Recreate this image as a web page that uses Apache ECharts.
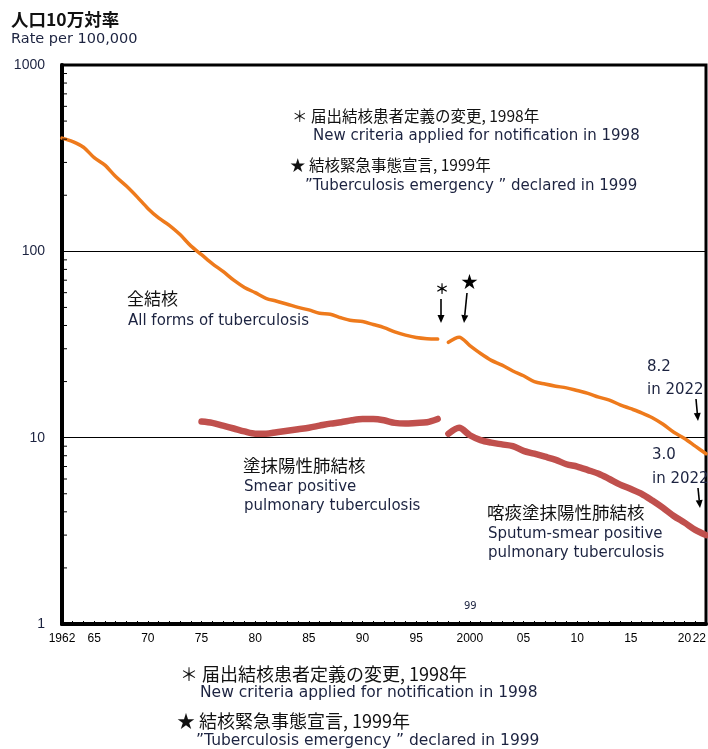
<!DOCTYPE html>
<html>
<head>
<meta charset="utf-8">
<script src="https://cdn.jsdelivr.net/npm/echarts@6/dist/echarts.min.js"></script>
<style>
  html, body { margin: 0; padding: 0; background: #fff; }
  #chart { width: 708px; height: 749px; }
</style>
</head>
<body>
<div id="chart"></div>
<script>
// Tuberculosis notification rate per 100,000 population, Japan, 1962-2022

// x-axis tick labels (year -> label text)
const xLabelYears = [1962, 1965, 1970, 1975, 1980, 1985, 1990, 1995, 2000, 2005, 2010, 2015, 2020, 2022];
const xLabelTexts = ['1962', '65', '70', '75', '80', '85', '90', '95', '2000', '05', '10', '15', '20', '22'];

// All forms of tuberculosis, old criteria (1962-1997)
const allFormsYearsA = [1962, 1963, 1964, 1965, 1966, 1967, 1968, 1969, 1970, 1971, 1972, 1973,
  1974, 1975, 1976, 1977, 1978, 1979, 1980, 1981, 1982, 1983, 1984, 1985, 1986, 1987, 1988,
  1989, 1990, 1991, 1992, 1993, 1994, 1995, 1996, 1997];
const allFormsA = [405, 388, 362, 318, 290, 252, 224, 196, 170, 151, 138, 123,
  107, 96, 86, 78, 70, 64, 60, 56, 54, 52, 50, 48.5, 46.5, 46, 44,
  42.5, 42, 40.5, 39, 37, 35.5, 34.5, 34, 33.8];

// All forms of tuberculosis, new criteria (1998-2022)
const allFormsYearsB = [1998, 1999, 2000, 2001, 2002, 2003, 2004, 2005, 2006, 2007, 2008, 2009,
  2010, 2011, 2012, 2013, 2014, 2015, 2016, 2017, 2018, 2019, 2020, 2021, 2022];
const allFormsB = [32.5, 34.6, 31.2, 28.3, 26.0, 24.5, 22.8, 21.5, 20.0, 19.4, 18.9, 18.5,
  17.9, 17.3, 16.5, 15.9, 15.0, 14.3, 13.6, 12.8, 11.8, 10.7, 9.9, 9.0, 8.2];

// Smear positive pulmonary tuberculosis (1975-1997)
const smearYearsA = [1975, 1976, 1977, 1978, 1979, 1980, 1981, 1982, 1983, 1984, 1985, 1986,
  1987, 1988, 1989, 1990, 1991, 1992, 1993, 1994, 1995, 1996, 1997];
const smearA = [12.2, 12.0, 11.6, 11.2, 10.8, 10.5, 10.5, 10.7, 10.9, 11.1, 11.3, 11.6,
  11.9, 12.1, 12.4, 12.6, 12.6, 12.4, 12.0, 11.9, 12.0, 12.1, 12.6];

// Sputum-smear positive pulmonary tuberculosis (1998-2022)
const smearYearsB = allFormsYearsB;
const smearB = [10.5, 11.3, 10.3, 9.7, 9.4, 9.2, 9.0, 8.5, 8.2, 7.9, 7.6, 7.2,
  7.0, 6.7, 6.4, 6.0, 5.6, 5.3, 5.0, 4.6, 4.2, 3.8, 3.5, 3.2, 3.0];

// y-axis minor tick positions on the log scale
const minorMantissas = [2, 3, 4, 5, 6, 7, 8, 9];
const minorDecades = [1, 10, 100];

const pairs = (xs, ys) => xs.map((x, i) => [x, ys[i]]);
const minorTicks = [];
minorDecades.forEach(d => minorMantissas.forEach(m => minorTicks.push([1962, m * d])));

const lastAll = allFormsB[allFormsB.length - 1];
const lastSmear = smearB[smearB.length - 1];

const ORANGE = '#EE7A1C';
const RED = '#C0504D';
const INK = '#1c2340';
const JP = '"Noto Sans CJK JP", "Noto Sans CJK SC", sans-serif';
const EN = '"DejaVu Sans", "Liberation Sans", sans-serif';

function txt(x, y, text, size, font, fill, weight) {
  return {
    type: 'text', x: x, y: y, silent: true,
    style: {
      text: text, font: (weight || 'normal') + ' ' + size + 'px ' + font,
      fill: fill || INK, textAlign: 'left', textVerticalAlign: 'middle',
      align: 'left', verticalAlign: 'middle'
    }
  };
}

function arrow(x1, y1, x2, y2) {
  const ang = Math.atan2(y2 - y1, x2 - x1);
  const L = 8, W = 3.5;
  const bx = x2 - L * Math.cos(ang), by = y2 - L * Math.sin(ang);
  const px = -Math.sin(ang) * W, py = Math.cos(ang) * W;
  return [
    { type: 'line', silent: true, shape: { x1: x1, y1: y1, x2: bx, y2: by },
      style: { stroke: '#000', lineWidth: 1.6 } },
    { type: 'polygon', silent: true,
      shape: { points: [[x2, y2], [bx + px, by + py], [bx - px, by - py]] },
      style: { fill: '#000' } }
  ];
}

const chart = echarts.init(document.getElementById('chart'), null, { renderer: 'canvas' });

const option = {
  backgroundColor: '#fff',
  animation: false,
  grid: {
    left: 62, right: 2, top: 65, bottom: 125,
    outerBoundsMode: 'none', containLabel: false,
    show: true, borderColor: '#000', borderWidth: 3, backgroundColor: 'transparent'
  },
  xAxis: {
    type: 'value', min: 1962, max: 2022, interval: 1,
    axisLine: { show: true, lineStyle: { color: '#000', width: 4 } },
    axisTick: { show: true, inside: true, length: 3, lineStyle: { color: '#000', width: 1 } },
    splitLine: { show: false },
    axisLabel: {
      show: true, margin: 9, color: '#000', fontSize: 12,
      fontFamily: '"Liberation Sans Narrow", "Liberation Sans", sans-serif',
      alignMaxLabel: 'right',
      formatter: v => {
        const i = xLabelYears.indexOf(v);
        return i >= 0 ? xLabelTexts[i] : '';
      }
    }
  },
  yAxis: {
    type: 'log', logBase: 10, min: 1, max: 1000,
    axisLine: { show: true, lineStyle: { color: '#000', width: 4 } },
    axisTick: { show: false },
    splitLine: { show: true, lineStyle: { color: '#000', width: 1 } },
    axisLabel: {
      margin: 17, color: INK, fontSize: 14, fontFamily: '"Liberation Sans", sans-serif',
      formatter: v => String(Math.round(v))
    }
  },
  series: [
    {
      type: 'custom', silent: true, z: 5,
      data: minorTicks,
      renderItem: (params, api) => {
        const p = api.coord([api.value(0), api.value(1)]);
        return {
          type: 'line',
          shape: { x1: p[0], y1: p[1], x2: p[0] + 5, y2: p[1] },
          style: { stroke: '#000', lineWidth: 1 }
        };
      }
    },
    {
      name: '全結核', type: 'line', data: pairs(allFormsYearsA, allFormsA),
      symbol: 'none', smooth: 0.3, lineStyle: { color: ORANGE, width: 3.5, cap: 'round' }
    },
    {
      name: '全結核 (new)', type: 'line', data: pairs(allFormsYearsB, allFormsB),
      symbol: 'none', smooth: 0.3, lineStyle: { color: ORANGE, width: 3.5, cap: 'round' }
    },
    {
      name: '塗抹陽性肺結核', type: 'line', data: pairs(smearYearsA, smearA),
      symbol: 'none', smooth: 0.3, lineStyle: { color: RED, width: 6.5, cap: 'round' }
    },
    {
      name: '喀痰塗抹陽性肺結核', type: 'line', data: pairs(smearYearsB, smearB),
      symbol: 'none', smooth: 0.3, lineStyle: { color: RED, width: 6.5, cap: 'round' }
    }
  ],
  graphic: [
    // axis title
    txt(11, 19, '人口10万対率', 17.5, JP, '#111', 'bold'),
    txt(11, 39, 'Rate per 100,000', 14.5, EN, INK),

    // notes inside the plot
    txt(292, 116, '＊ 届出結核患者定義の変更, 1998年', 15.5, JP, '#111'),
    txt(313, 136, 'New criteria applied for notification in 1998', 15, EN, INK),
    txt(290, 165, '★ 結核緊急事態宣言, 1999年', 15.5, JP, '#111'),
    txt(305, 186, '”Tuberculosis emergency ” declared in 1999', 15, EN, INK),

    // series labels
    txt(127, 299, '全結核', 17, JP, '#111'),
    txt(128, 321, 'All forms of tuberculosis', 15, EN, INK),
    txt(243, 465, '塗抹陽性肺結核', 17.5, JP, '#111'),
    txt(244, 487, 'Smear positive', 15, EN, INK),
    txt(244, 506, 'pulmonary tuberculosis', 15, EN, INK),
    txt(487, 512, '喀痰塗抹陽性肺結核', 17.5, JP, '#111'),
    txt(488, 534, 'Sputum-smear positive', 15, EN, INK),
    txt(488, 553, 'pulmonary tuberculosis', 15, EN, INK),

    // latest values
    txt(647, 367, lastAll.toFixed(1), 15, EN, INK),
    txt(647, 390, 'in 2022', 15, EN, INK),
    txt(652, 455, lastSmear.toFixed(1), 15, EN, INK),
    txt(652, 479, 'in 2022', 15, EN, INK),

    // event markers
    txt(435, 289, '＊', 14, JP, '#000', 'bold'),
    txt(461, 282, '★', 17, JP, '#000'),
    txt(464, 606, '99', 10, EN, INK),

    ...arrow(441, 299, 441, 323),
    ...arrow(467, 293, 464, 323),
    ...arrow(696, 399, 698, 421),
    ...arrow(698, 488, 700, 508),

    // notes below the chart
    txt(180, 674, '＊ 届出結核患者定義の変更, 1998年', 18, JP, '#111'),
    txt(200, 693, 'New criteria applied for notification in 1998', 15.5, EN, INK),
    txt(177, 721, '★ 結核緊急事態宣言, 1999年', 18, JP, '#111'),
    txt(196, 741, '”Tuberculosis emergency ” declared in 1999', 15.5, EN, INK)
  ]
};

chart.setOption(option);
</script>
</body>
</html>
